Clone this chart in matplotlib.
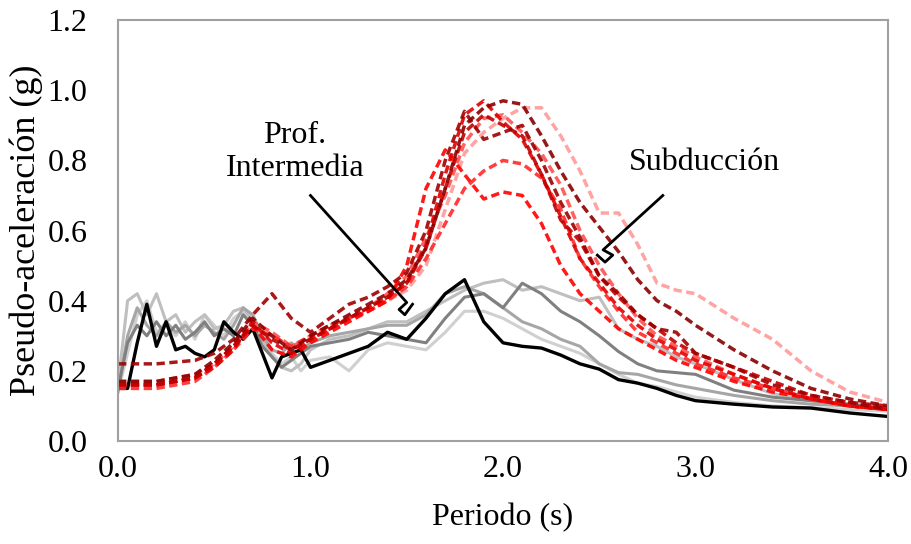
# Espectros de pseudo-aceleración: Prof. Intermedia vs Subducción
import matplotlib.pyplot as plt
import numpy as np

plt.rcParams['font.family'] = ['Liberation Serif', 'DejaVu Serif']

# periodos (s)
T_pi = [0.0, 0.05, 0.1, 0.15, 0.2, 0.25, 0.3, 0.35, 0.4, 0.45, 0.5, 0.55, 0.6,
        0.65, 0.7, 0.75, 0.8, 0.85, 0.9, 0.95, 1.0, 1.1, 1.2, 1.3, 1.4, 1.5,
        1.6, 1.7, 1.8, 1.9, 2.0, 2.1, 2.2, 2.3, 2.4, 2.5, 2.6, 2.7, 2.8, 2.9,
        3.0, 3.2, 3.4, 3.6, 3.8, 4.0]
T_sub = [0.0, 0.2, 0.4, 0.5, 0.6, 0.7, 0.8, 0.9, 1.0, 1.1, 1.2, 1.3, 1.4, 1.5,
         1.6, 1.7, 1.8, 1.9, 2.0, 2.1, 2.2, 2.3, 2.4, 2.5, 2.6, 2.7, 2.8, 2.9,
         3.0, 3.2, 3.4, 3.6, 3.8, 4.0]

# Prof. Intermedia (lineas continuas)
pi_negro = [0.15, 0.15, 0.28, 0.39, 0.27, 0.34, 0.26, 0.27, 0.25, 0.24, 0.26, 0.34, 0.31,
            0.29, 0.32, 0.25, 0.18, 0.24, 0.25, 0.26, 0.21, 0.23, 0.25, 0.27, 0.31, 0.29,
            0.35, 0.42, 0.46, 0.34, 0.28, 0.27, 0.265, 0.245, 0.22, 0.205, 0.175, 0.165, 0.15, 0.13,
            0.115, 0.105, 0.097, 0.094, 0.08, 0.07]
pi_g1 = [0.15, 0.28, 0.33, 0.30, 0.34, 0.30, 0.33, 0.29, 0.31, 0.34, 0.30, 0.32, 0.30,
         0.36, 0.33, 0.27, 0.24, 0.21, 0.23, 0.25, 0.27, 0.28, 0.29, 0.31, 0.30, 0.29,
         0.28, 0.35, 0.41, 0.42, 0.38, 0.45, 0.42, 0.37, 0.34, 0.30, 0.255, 0.22, 0.20, 0.195,
         0.19, 0.145, 0.125, 0.115, 0.105, 0.095]
pi_g2 = [0.14, 0.30, 0.38, 0.33, 0.30, 0.34, 0.31, 0.33, 0.30, 0.33, 0.31, 0.29, 0.33,
         0.38, 0.36, 0.30, 0.26, 0.25, 0.28, 0.26, 0.28, 0.30, 0.31, 0.32, 0.33, 0.33,
         0.36, 0.42, 0.44, 0.42, 0.38, 0.34, 0.32, 0.29, 0.27, 0.22, 0.195, 0.19, 0.175, 0.16,
         0.15, 0.13, 0.115, 0.105, 0.10, 0.09]
pi_g3 = [0.16, 0.40, 0.42, 0.36, 0.42, 0.34, 0.36, 0.31, 0.34, 0.36, 0.32, 0.33, 0.37,
         0.38, 0.34, 0.29, 0.24, 0.21, 0.20, 0.22, 0.26, 0.29, 0.30, 0.32, 0.34, 0.34,
         0.37, 0.40, 0.43, 0.45, 0.46, 0.43, 0.44, 0.42, 0.40, 0.41, 0.32, 0.29, 0.27, 0.24,
         0.22, 0.175, 0.135, 0.115, 0.10, 0.09]
pi_g4 = [0.14, 0.25, 0.36, 0.40, 0.31, 0.33, 0.30, 0.34, 0.29, 0.36, 0.33, 0.30, 0.35,
         0.37, 0.35, 0.28, 0.25, 0.22, 0.24, 0.20, 0.23, 0.24, 0.20, 0.26, 0.28, 0.27,
         0.26, 0.31, 0.37, 0.37, 0.35, 0.32, 0.29, 0.27, 0.25, 0.22, 0.19, 0.165, 0.155, 0.14,
         0.125, 0.11, 0.10, 0.095, 0.09, 0.085]

# Subducción (lineas discontinuas)
sub_1 = [0.17, 0.17, 0.19, 0.23, 0.28, 0.35, 0.30, 0.26, 0.30, 0.33, 0.36, 0.39, 0.42, 0.46,
         0.55, 0.72, 0.90, 0.95, 0.97, 0.96, 0.87, 0.77, 0.68, 0.61, 0.54, 0.46, 0.40, 0.37,
         0.33, 0.26, 0.20, 0.15, 0.12, 0.10]
sub_2 = [0.22, 0.22, 0.23, 0.25, 0.29, 0.36, 0.42, 0.35, 0.31, 0.35, 0.39, 0.41, 0.44, 0.48,
         0.60, 0.80, 0.94, 0.86, 0.88, 0.90, 0.80, 0.68, 0.58, 0.47, 0.42, 0.36, 0.32, 0.31,
         0.25, 0.21, 0.16, 0.13, 0.11, 0.09]
sub_3 = [0.16, 0.16, 0.18, 0.22, 0.27, 0.33, 0.26, 0.24, 0.28, 0.31, 0.34, 0.37, 0.40, 0.50,
         0.72, 0.83, 0.76, 0.69, 0.71, 0.70, 0.62, 0.50, 0.42, 0.37, 0.32, 0.29, 0.26, 0.23,
         0.21, 0.17, 0.14, 0.12, 0.10, 0.09]
sub_4 = [0.16, 0.16, 0.18, 0.21, 0.26, 0.34, 0.28, 0.25, 0.29, 0.32, 0.35, 0.38, 0.41, 0.45,
         0.56, 0.76, 0.93, 0.97, 0.91, 0.86, 0.76, 0.64, 0.52, 0.45, 0.38, 0.33, 0.29, 0.26,
         0.23, 0.19, 0.15, 0.12, 0.10, 0.09]
sub_5 = [0.15, 0.15, 0.17, 0.21, 0.26, 0.32, 0.30, 0.27, 0.30, 0.33, 0.35, 0.37, 0.40, 0.44,
         0.52, 0.62, 0.72, 0.77, 0.80, 0.79, 0.75, 0.66, 0.52, 0.44, 0.37, 0.31, 0.28, 0.25,
         0.22, 0.18, 0.15, 0.12, 0.10, 0.09]
sub_6 = [0.16, 0.16, 0.18, 0.22, 0.27, 0.33, 0.30, 0.27, 0.30, 0.33, 0.35, 0.37, 0.40, 0.43,
         0.50, 0.66, 0.82, 0.88, 0.92, 0.95, 0.95, 0.87, 0.77, 0.65, 0.65, 0.56, 0.45, 0.43,
         0.42, 0.35, 0.29, 0.20, 0.14, 0.11]
sub_7 = [0.17, 0.17, 0.19, 0.22, 0.27, 0.34, 0.31, 0.27, 0.29, 0.32, 0.35, 0.38, 0.42, 0.47,
         0.58, 0.70, 0.85, 0.92, 0.93, 0.88, 0.82, 0.73, 0.60, 0.50, 0.42, 0.35, 0.30, 0.27,
         0.24, 0.19, 0.15, 0.12, 0.10, 0.09]
sub_8 = [0.16, 0.16, 0.18, 0.22, 0.27, 0.33, 0.29, 0.26, 0.29, 0.32, 0.35, 0.38, 0.41, 0.45,
         0.55, 0.72, 0.88, 0.93, 0.90, 0.87, 0.76, 0.63, 0.57, 0.47, 0.41, 0.36, 0.32, 0.28,
         0.25, 0.21, 0.17, 0.13, 0.11, 0.10]

grises = [(pi_g4, '#d0d0d0'), (pi_g3, '#bfbfbf'), (pi_g2, '#a6a6a6'), (pi_g1, '#808080')]
rojos = [(sub_6, '#ff9999'), (sub_7, '#ff5050'), (sub_5, '#ff2a2a'), (sub_3, '#ff0000'),
         (sub_4, '#e00000'), (sub_8, '#c00000'), (sub_2, '#a00000'), (sub_1, '#8b0000')]

fig = plt.figure(figsize=(9.11, 5.44), dpi=100)
ax = fig.add_axes([0.1295, 0.1893, 0.8453, 0.7737])

for yi, c in grises:
    ax.plot(T_pi, yi, color=c, lw=2.2, solid_joinstyle='round')
ax.plot(T_pi, pi_negro, color='black', lw=2.4, solid_joinstyle='round')
for yi, c in rojos:
    ax.plot(T_sub, yi, color=c, lw=2.5, ls=(0, (2.4, 1.3)), alpha=0.9)

# anotaciones tipo globo
ax.text(0.92, 0.824, 'Prof.\nIntermedia', ha='center', va='center', fontsize=23,
        linespacing=1.15)
ax.plot([1.0, 1.5, 1.46, 1.49, 1.53], [0.70, 0.395, 0.375, 0.36, 0.39], color='black', lw=2.0)
ax.text(3.047, 0.795, 'Subducción', ha='center', va='center', fontsize=23)
ax.plot([2.83, 2.52, 2.57, 2.53, 2.49], [0.70, 0.545, 0.53, 0.51, 0.53], color='black', lw=2.0)

ax.set_xlim(0, 4)
ax.set_ylim(0, 1.2)
ax.set_xticks(np.arange(0, 4.01, 1.0))
ax.set_yticks(np.arange(0, 1.21, 0.2))
ax.xaxis.set_major_formatter(plt.FormatStrFormatter('%.1f'))
ax.yaxis.set_major_formatter(plt.FormatStrFormatter('%.1f'))
ax.tick_params(length=0, labelsize=23)
ax.tick_params(axis='x', pad=10)
ax.tick_params(axis='y', pad=22)
for s in ax.spines.values():
    s.set_color('#a0a0a0')
    s.set_linewidth(1.5)
ax.set_xlabel('Periodo (s)', fontsize=23, labelpad=14)
ax.set_ylabel('Pseudo-aceleración (g)', fontsize=26, labelpad=3)

fig.savefig('out.png', dpi=100)
